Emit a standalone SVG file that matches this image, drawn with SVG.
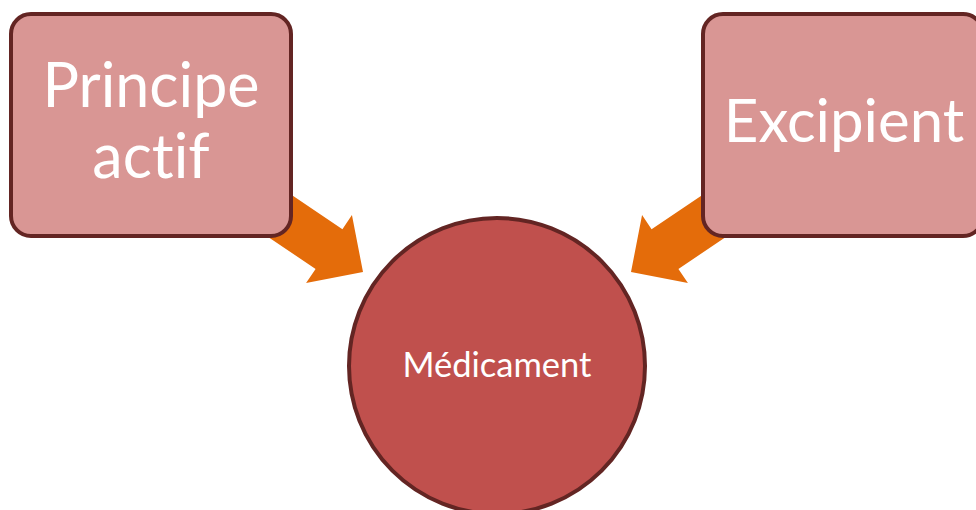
<svg xmlns="http://www.w3.org/2000/svg" width="976" height="510" viewBox="0 0 976 510">
<style>
.box{fill:#D99694;stroke:#632523;stroke-width:4}
.circ{fill:#C0504D;stroke:#632523;stroke-width:4}
.arrow{fill:#E46C0A}
.t{font-family:Lato,"Open Sans",sans-serif;fill:#FFFFFF;text-anchor:middle;font-variant-ligatures:none;font-feature-settings:"liga" 0,"clig" 0}
</style>
<defs>
<path id="arr" d="M0,0 L-41,-41 L-41,-24 L-160,-24 L-160,24 L-41,24 L-41,41 Z"/>
</defs>
<g id="connectors">
<use href="#arr" class="arrow" transform="translate(363,272) rotate(34)"/>
<use href="#arr" class="arrow" transform="translate(631,272) rotate(146)"/>
</g>
<g id="principe">
<rect class="box" x="11" y="14" width="280" height="222" rx="20"/>
<text class="t" font-size="61"><tspan x="151" y="107">Principe</tspan><tspan x="151" y="178">actif</tspan></text>
</g>
<g id="excipient">
<rect class="box" x="703" y="14" width="280" height="222" rx="20"/>
<text class="t" font-size="60" x="844" y="142">Excipient</text>
</g>
<g id="medicament">
<circle class="circ" cx="497" cy="366" r="148"/>
<text class="t" font-size="34.5" x="497" y="377">Médicament</text>
</g>
</svg>
